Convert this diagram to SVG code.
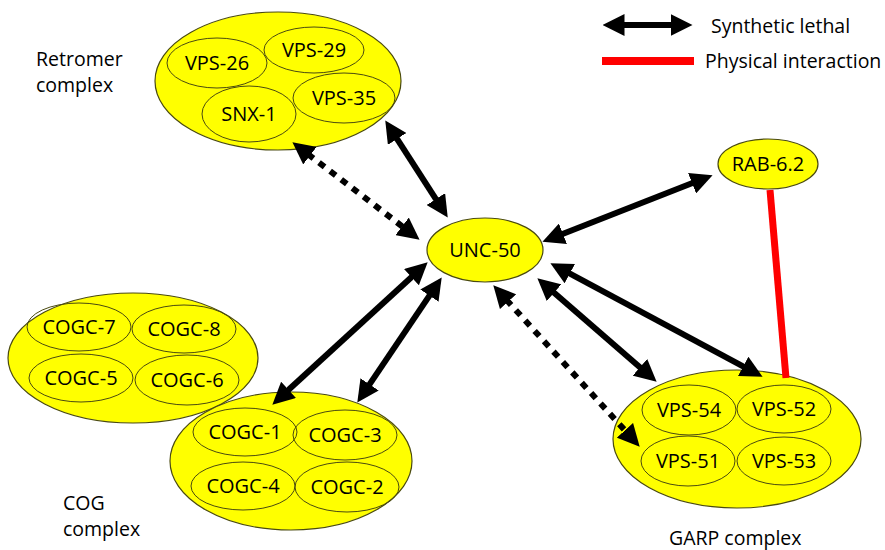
<svg xmlns="http://www.w3.org/2000/svg" width="885" height="550" viewBox="0 0 885 550">
<style>
.big{fill:#ffff00;stroke:#4a4a10;stroke-width:1.2}
.sub{fill:none;stroke:#4a4a10;stroke-width:1}
.t{font-family:"Open Sans","Liberation Sans",sans-serif;font-size:20px;fill:#000;text-anchor:middle}
.lab{font-family:"Open Sans","Liberation Sans",sans-serif;font-size:19.5px;fill:#000}
.sl{stroke:#000;stroke-width:6;fill:none;marker-start:url(#ah);marker-end:url(#ah)}
.dl{stroke:#000;stroke-width:6;fill:none;stroke-dasharray:7 7;marker-start:url(#ah);marker-end:url(#ah)}
</style>
<defs>
<marker id="ah" markerUnits="userSpaceOnUse" viewBox="0 0 22 22" markerWidth="22" markerHeight="22" refX="2.5" refY="11" orient="auto-start-reverse">
<path d="M0,0 L22,11 L0,22 z" fill="#000"/>
</marker>
</defs>
<rect width="885" height="550" fill="#fff"/>

<g id="legend">
<line class="sl" x1="622" y1="25" x2="673" y2="25"/>
<text class="lab" x="711" y="33">Synthetic lethal</text>
<line x1="602" y1="61" x2="694" y2="61" stroke="#ff0000" stroke-width="8"/>
<text class="lab" x="705" y="68">Physical interaction</text>
</g>

<g id="retromer">
<ellipse class="big" cx="278" cy="81" rx="123" ry="69"/>
<ellipse class="sub" cx="217" cy="63" rx="50" ry="25"/>
<text class="t" x="217" y="70">VPS-26</text>
<ellipse class="sub" cx="314" cy="50" rx="50" ry="23"/>
<text class="t" x="314" y="57">VPS-29</text>
<ellipse class="sub" cx="249" cy="114" rx="47" ry="28"/>
<text class="t" x="249" y="121">SNX-1</text>
<ellipse class="sub" cx="344" cy="98" rx="51" ry="25"/>
<text class="t" x="344" y="105">VPS-35</text>
<text class="lab" x="36" y="66">Retromer</text>
<text class="lab" x="36" y="92">complex</text>
</g>

<g id="rab62">
<ellipse class="big" cx="768" cy="164" rx="50" ry="25"/>
<text class="t" x="768" y="171">RAB-6.2</text>
</g>

<g id="unc50">
<ellipse class="big" cx="485" cy="250" rx="58" ry="32"/>
<text class="t" x="485" y="257">UNC-50</text>
</g>

<g id="cog-upper">
<ellipse class="big" cx="133" cy="358" rx="125" ry="65"/>
<ellipse class="sub" cx="79" cy="327" rx="52" ry="24"/>
<text class="t" x="79" y="334">COGC-7</text>
<ellipse class="sub" cx="184" cy="329" rx="52" ry="24"/>
<text class="t" x="184" y="336">COGC-8</text>
<ellipse class="sub" cx="81" cy="378" rx="52" ry="24"/>
<text class="t" x="81" y="385">COGC-5</text>
<ellipse class="sub" cx="187" cy="380" rx="52" ry="25"/>
<text class="t" x="187" y="387">COGC-6</text>
</g>

<g id="cog-lower">
<ellipse class="big" cx="291" cy="461" rx="121" ry="69"/>
<ellipse class="sub" cx="245" cy="432" rx="52" ry="24"/>
<text class="t" x="245" y="439">COGC-1</text>
<ellipse class="sub" cx="345" cy="435" rx="52" ry="25"/>
<text class="t" x="345" y="442">COGC-3</text>
<ellipse class="sub" cx="243" cy="486" rx="52" ry="24"/>
<text class="t" x="243" y="493">COGC-4</text>
<ellipse class="sub" cx="347" cy="487" rx="52" ry="25"/>
<text class="t" x="347" y="494">COGC-2</text>
<text class="lab" x="63" y="510">COG</text>
<text class="lab" x="63" y="536">complex</text>
</g>

<g id="garp">
<ellipse class="big" cx="737" cy="439" rx="124" ry="69"/>
<ellipse class="sub" cx="689" cy="410" rx="47" ry="25"/>
<text class="t" x="689" y="417">VPS-54</text>
<ellipse class="sub" cx="784" cy="409" rx="47" ry="24"/>
<text class="t" x="784" y="416">VPS-52</text>
<ellipse class="sub" cx="688" cy="461" rx="47" ry="25"/>
<text class="t" x="688" y="468">VPS-51</text>
<ellipse class="sub" cx="784" cy="461" rx="47" ry="24"/>
<text class="t" x="784" y="468">VPS-53</text>
<text class="lab" x="669" y="545">GARP complex</text>
</g>

<g id="connectors">
<line class="sl" x1="395.8" y1="136.8" x2="437.2" y2="201.2"/>
<line class="dl" x1="307.9" y1="154.2" x2="404.1" y2="227.8"/>
<line class="sl" x1="560.6" y1="234.7" x2="694.4" y2="182.3"/>
<line class="sl" x1="567.6" y1="272.4" x2="745.4" y2="367.6"/>
<line class="sl" x1="552.1" y1="291.1" x2="641.9" y2="368.9"/>
<line class="dl" x1="506.4" y1="299.8" x2="626.6" y2="432.2"/>
<line class="sl" x1="413.3" y1="275.5" x2="286.7" y2="391.5"/>
<line class="sl" x1="430.8" y1="293.6" x2="368.2" y2="386.4"/>
<line x1="770" y1="190" x2="786" y2="378" stroke="#ff0000" stroke-width="7"/>
</g>
</svg>
